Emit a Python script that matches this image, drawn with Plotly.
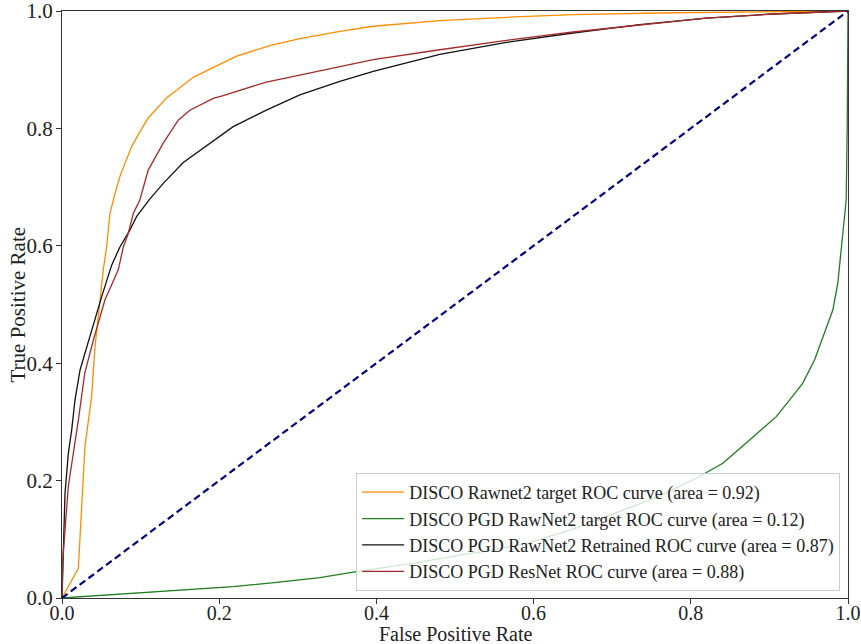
import plotly.graph_objects as go

# ROC curve samples (false positive rate, true positive rate)
rawnet2_fpr = [0, 0.0208, 0.0292, 0.0377, 0.042, 0.0483, 0.0525, 0.0568, 0.061, 0.0674,
               0.0737, 0.080, 0.0886, 0.099, 0.1097, 0.133, 0.167, 0.2221, 0.2645, 0.3026,
               0.3535, 0.396, 0.4806, 0.5654, 0.650, 0.7773, 0.9, 1.0]
rawnet2_tpr = [0, 0.0506, 0.258, 0.343, 0.428, 0.508, 0.559, 0.598, 0.655, 0.689,
               0.718, 0.740, 0.769, 0.794, 0.8177, 0.852, 0.887, 0.923, 0.941, 0.953,
               0.9654, 0.974, 0.9835, 0.9893, 0.9938, 0.997, 0.9992, 1.0]

pgd_target_fpr = [0, 0.0737, 0.1458, 0.2178, 0.273, 0.328, 0.3747, 0.45, 0.506, 0.55,
                  0.591, 0.654, 0.705, 0.757, 0.807, 0.8408, 0.8748, 0.9087, 0.9256, 0.9425,
                  0.9574, 0.970, 0.9807, 0.987, 0.9934, 0.9977, 0.999, 1.0]
pgd_target_tpr = [0, 0.0063, 0.0125, 0.0193, 0.0267, 0.0346, 0.0448, 0.060, 0.073, 0.082,
                  0.093, 0.119, 0.145, 0.172, 0.204, 0.2295, 0.269, 0.309, 0.337, 0.366,
                  0.4055, 0.451, 0.4906, 0.536, 0.621, 0.678, 0.80, 1.0]

retrained_fpr = [0, 0.0017, 0.0038, 0.008, 0.0123, 0.0165, 0.0229, 0.0292, 0.040, 0.0504,
                 0.0632, 0.0737, 0.0865, 0.095, 0.1119, 0.13, 0.1543, 0.2178, 0.260, 0.3026,
                 0.3535, 0.396, 0.4806, 0.5654, 0.650, 0.7349, 0.8197, 0.9044, 1.0]
retrained_tpr = [0, 0.065, 0.178, 0.246, 0.286, 0.337, 0.388, 0.417, 0.468, 0.513,
                 0.567, 0.598, 0.627, 0.650, 0.680, 0.708, 0.742, 0.803, 0.831, 0.857,
                 0.880, 0.897, 0.926, 0.9467, 0.9625, 0.9767, 0.988, 0.9949, 1.0]

resnet_fpr = [0, 0.001, 0.008, 0.0144, 0.0208, 0.029, 0.040, 0.0547, 0.0716, 0.078,
              0.0843, 0.0907, 0.099, 0.1097, 0.1288, 0.1479, 0.1627, 0.1924, 0.2051, 0.26,
              0.3026, 0.3535, 0.396, 0.4806, 0.5654, 0.650, 0.7349, 0.8197, 0.9044, 1.0]
resnet_tpr = [0, 0.065, 0.19, 0.246, 0.303, 0.383, 0.44, 0.508, 0.559, 0.598,
              0.621, 0.655, 0.678, 0.729, 0.775, 0.814, 0.831, 0.851, 0.856, 0.879,
              0.891, 0.906, 0.917, 0.934, 0.950, 0.9642, 0.9767, 0.988, 0.9949, 1.0]

chance_line = [0, 1]

labels = [
    "DISCO Rawnet2 target ROC curve (area = 0.92)",
    "DISCO PGD RawNet2 target ROC curve (area = 0.12)",
    "DISCO PGD RawNet2 Retrained ROC curve (area = 0.87)",
    "DISCO PGD ResNet ROC curve (area = 0.88)",
]
colors = ["#FF8C00", "#1E7D1E", "#111111", "#A52A2A"]
tick_vals = [0.0, 0.2, 0.4, 0.6, 0.8, 1.0]
tick_text = ["0.0", "0.2", "0.4", "0.6", "0.8", "1.0"]
x_title = "False Positive Rate"
y_title = "True Positive Rate"

FONT = "Liberation Serif"
TEXT_COLOR = "#222222"

fig = go.Figure()
series = [
    (rawnet2_fpr, rawnet2_tpr),
    (pgd_target_fpr, pgd_target_tpr),
    (retrained_fpr, retrained_tpr),
    (resnet_fpr, resnet_tpr),
]
for (fx, fy), name, col in zip(series, labels, colors):
    fig.add_trace(go.Scatter(x=fx, y=fy, mode="lines", name=name,
                             line=dict(color=col, width=1.3)))

fig.add_trace(go.Scatter(x=chance_line, y=chance_line, mode="lines", showlegend=False,
                         line=dict(color="#000080", width=2.2, dash="7px,4px")))

axis_common = dict(
    range=[0, 1], tickvals=tick_vals, ticktext=tick_text,
    showgrid=False, zeroline=False, automargin=False,
    ticklabeloverflow="allow",
    showline=True, linecolor="#333333", linewidth=1.2, mirror=True,
    ticks="outside", ticklen=5, tickwidth=1, tickcolor="#333333",
)

fig.update_layout(
    width=861, height=644,
    margin=dict(l=62, r=13, t=11, b=46),
    paper_bgcolor="white", plot_bgcolor="white",
    xaxis=dict(**axis_common, ticklabelstandoff=-8,
               tickfont=dict(family=FONT, size=20, color=TEXT_COLOR)),
    yaxis=dict(**axis_common, ticklabelstandoff=-1,
               tickfont=dict(family=FONT, size=21, color=TEXT_COLOR)),
    legend=dict(
        x=0.99, y=0.012, xanchor="right", yanchor="bottom",
        bgcolor="rgba(255,255,255,0.8)", bordercolor="#CCCCCC", borderwidth=1,
        font=dict(family=FONT, size=18, color=TEXT_COLOR),
        itemwidth=42, tracegroupgap=0,
    ),
    annotations=[
        dict(text=x_title, xref="paper", yref="paper", x=0.5, y=-0.0605,
             xanchor="center", yanchor="middle", showarrow=False,
             font=dict(family=FONT, size=20, color=TEXT_COLOR)),
        dict(text=y_title, xref="paper", yref="paper", x=-0.056, y=0.5,
             xanchor="center", yanchor="middle", showarrow=False, textangle=-90,
             font=dict(family=FONT, size=21, color=TEXT_COLOR)),
    ],
)

fig.write_html("out.html")
